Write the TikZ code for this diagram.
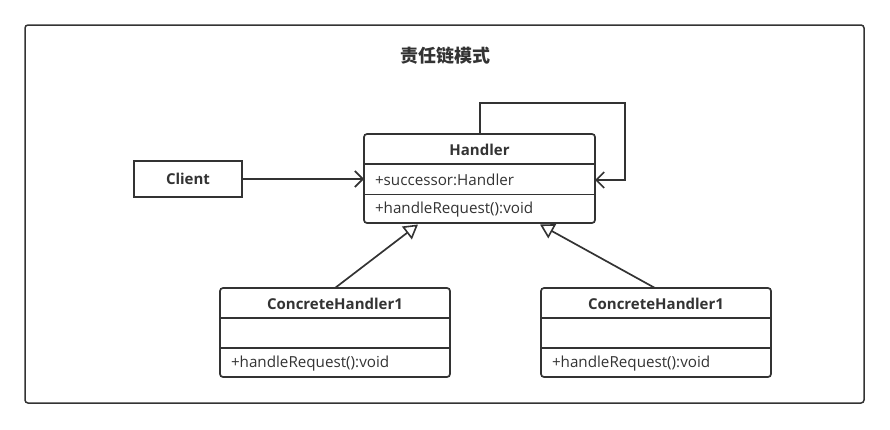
\documentclass[tikz,border=0pt]{standalone}
\usepackage{fontspec}
\setmainfont{Open Sans}
\newfontfamily\cjk{Noto Sans CJK SC}
\usetikzlibrary{arrows.meta,calc}
\definecolor{ink}{HTML}{333333}
\begin{document}
\begin{tikzpicture}[x=1pt,y=-1pt,
  every node/.style={inner sep=0pt, outer sep=0pt, text=ink},
  umlbox/.style={draw=ink, line width=1.7pt, rounded corners=3pt, fill=white},
  cls/.style={font=\fontsize{15}{17}\selectfont\bfseries},
  mem/.style={font=\fontsize{15.2}{17}\selectfont, anchor=west},
  divider/.style={draw=ink, line width=1.5pt},
  conn/.style={draw=ink, line width=1.7pt},
  assoc/.style={conn, -{Straight Barb[length=8pt,width=16pt,line width=1.7pt]}},
  inherit/.style={conn, -{Triangle[open,length=14pt,width=16pt,line width=1.6pt,fill=white]}}]
\useasboundingbox (0,0) rectangle (890,429);
\draw[draw=ink, line width=1.5pt, rounded corners=3pt] (25,25) rectangle (864,403);
\node[font=\cjk\fontsize{18}{20}\selectfont\bfseries] (title) at (445,56) {责任链模式};

% Handler
\node[umlbox, minimum width=231pt, minimum height=89pt] (h) at (479.5,178.5) {};
\draw[divider] ($(h.north west)+(0,30)$) -- ($(h.north east)+(0,30)$);
\draw[divider] ($(h.north west)+(0,60.5)$) -- ($(h.north east)+(0,60.5)$);
\node[cls] (hname) at ($(h.north)+(0,16)$) {Handler};
\node[mem] (hattr) at ($(h.north west)+(11,46)$) {+successor:Handler};
\node[mem] (hop) at ($(h.north west)+(11,76)$) {+handleRequest():void};

% Client
\node[umlbox, rounded corners=0pt, minimum width=108pt, minimum height=36pt, cls] (c) at (188,179) {Client};

% Concrete handlers
\node[umlbox, minimum width=230pt, minimum height=89pt] (a) at (335,332.5) {};
\draw[divider] ($(a.north west)+(0,30)$) -- ($(a.north east)+(0,30)$);
\draw[divider] ($(a.north west)+(0,60)$) -- ($(a.north east)+(0,60)$);
\node[cls] (aname) at ($(a.north)+(0,16)$) {ConcreteHandler1};
\node[mem] (aop) at ($(a.north west)+(11,75.5)$) {+handleRequest():void};

\node[umlbox, minimum width=230pt, minimum height=89pt] (b) at (656,332.5) {};
\draw[divider] ($(b.north west)+(0,30)$) -- ($(b.north east)+(0,30)$);
\draw[divider] ($(b.north west)+(0,60)$) -- ($(b.north east)+(0,60)$);
\node[cls] (bname) at ($(b.north)+(0,16)$) {ConcreteHandler1};
\node[mem] (bop) at ($(b.north west)+(11,75.5)$) {+handleRequest():void};

% connectors
\draw[assoc] (c.east) -- (c.east -| h.west);
\coordinate (lp1) at (480,103);
\coordinate (lp2) at (625,103);
\coordinate (lp3) at (625,180);
\draw[assoc] (h.north -| lp1) -- (lp1) -- (lp2) -- (lp3) -- (lp3 -| h.east);
\draw[inherit] (a.north) -- (418,224.5);
\draw[inherit] (b.north -| 655,0) -- (540,224.5);
\end{tikzpicture}
\end{document}
